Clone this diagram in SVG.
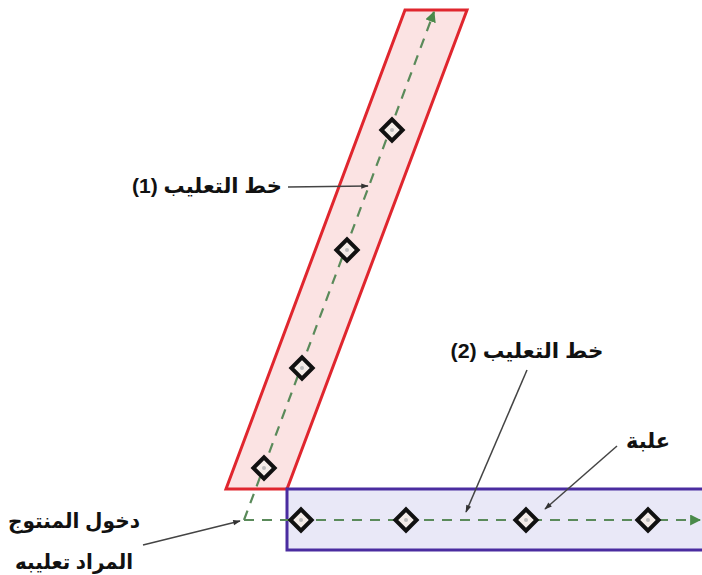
<svg xmlns="http://www.w3.org/2000/svg" width="702" height="575" viewBox="0 0 702 575">
<defs>
<style>
.lbl{font-family:"Liberation Sans","DejaVu Sans",sans-serif;font-weight:bold;font-size:21px;fill:#111;text-anchor:middle;direction:rtl;unicode-bidi:embed}
.flow{fill:none;stroke:#5a8a5a;stroke-width:2.2;stroke-dasharray:10 8}
.lead{fill:none;stroke:#444;stroke-width:1.5}
.can{fill:#f4ece8;stroke:#111;stroke-width:4}
</style>
<marker id="ga" viewBox="0 0 10 10" refX="9" refY="5" markerWidth="5" markerHeight="5" orient="auto" markerUnits="strokeWidth"><path d="M0,0 L10,5 L0,10 z" fill="#4a8a4a"/></marker>
<marker id="ka" viewBox="0 0 10 10" refX="9" refY="5" markerWidth="6" markerHeight="5" orient="auto" markerUnits="strokeWidth"><path d="M0,1.5 L10,5 L0,8.5 z" fill="#333"/></marker>
<g id="canShape"><rect x="-7.5" y="-7.5" width="15" height="15" transform="rotate(45)" class="can"/><circle r="2" fill="#bbb"/></g>
</defs>
<rect width="702" height="575" fill="#fff"/>
<g id="line1"><polygon points="405,10 467,10 287,489 226,489" fill="#fbe3e3" stroke="#e0262e" stroke-width="3"/></g>
<g id="line2"><rect x="287" y="489" width="420" height="61" fill="#e9e8f7" stroke="#4a2ca0" stroke-width="3"/></g>
<g id="connectors">
<path class="flow" d="M244,520 L434,12" marker-end="url(#ga)"/>
<path class="flow" d="M244,520 L700,520" marker-end="url(#ga)"/>
<path class="lead" d="M288,187 L368,186" marker-end="url(#ka)"/>
<path class="lead" d="M527,370 L466,512" marker-end="url(#ka)"/>
<path class="lead" d="M617,446 L545,509" marker-end="url(#ka)"/>
<path class="lead" d="M143,545 L240,521" marker-end="url(#ka)"/>
</g>
<g id="cans">
<use href="#canShape" x="392" y="130"/>
<use href="#canShape" x="347" y="250"/>
<use href="#canShape" x="302" y="368"/>
<use href="#canShape" x="264" y="468"/>
<use href="#canShape" x="301" y="520"/>
<use href="#canShape" x="406" y="520"/>
<use href="#canShape" x="526" y="520"/>
<use href="#canShape" x="648" y="520"/>
</g>
<g id="label1"><text class="lbl" x="207" y="193" textLength="150" lengthAdjust="spacingAndGlyphs">خط التعليب (1)</text></g>
<g id="label2"><text class="lbl" x="527" y="358" textLength="153" lengthAdjust="spacingAndGlyphs">خط التعليب (2)</text></g>
<g id="label3"><text class="lbl" x="648" y="448" textLength="44" lengthAdjust="spacingAndGlyphs">علبة</text></g>
<g id="label4"><text class="lbl" x="74" y="528" textLength="132" lengthAdjust="spacingAndGlyphs">دخول المنتوج</text><text class="lbl" x="74" y="569" textLength="118" lengthAdjust="spacingAndGlyphs">المراد تعليبه</text></g>
</svg>
